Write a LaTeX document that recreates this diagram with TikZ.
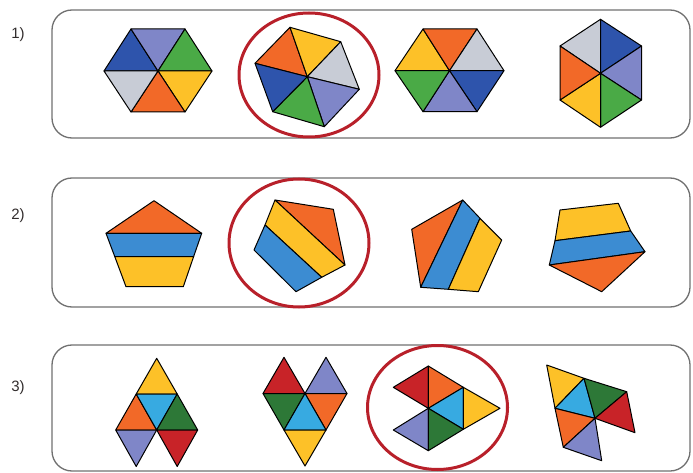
\documentclass[tikz,border=0pt]{standalone}
\usepackage{fontspec}
\setmainfont{Liberation Sans}
\definecolor{dblue}{RGB}{46,84,172}
\definecolor{lav}{RGB}{127,134,200}
\definecolor{grn}{RGB}{74,170,70}
\definecolor{yel}{RGB}{253,193,40}
\definecolor{ora}{RGB}{242,105,40}
\definecolor{lgray}{RGB}{200,204,214}
\definecolor{mblue}{RGB}{60,140,210}
\definecolor{lblue}{RGB}{55,170,225}
\definecolor{dgrn}{RGB}{45,120,55}
\definecolor{rd}{RGB}{200,35,40}
\definecolor{ring}{RGB}{184,32,42}
\definecolor{boxgray}{RGB}{112,112,112}
\definecolor{lbl}{RGB}{50,45,45}
\begin{document}
\begin{tikzpicture}[x=1pt,y=-1pt,
  piece/.style={draw=black,line width=1pt,line join=round},
  panel/.style={draw=boxgray,line width=1.3pt,rounded corners=20pt},
  ringmark/.style={draw=ring,line width=3pt},
  lab/.style={text=lbl,font=\fontsize{15}{17}\selectfont,inner sep=0pt}]
\useasboundingbox (0,0) rectangle (693,473);
% panels
\draw[panel] (52,10) rectangle (690,138);
\draw[panel] (52,178) rectangle (690,307);
\draw[panel] (52,345) rectangle (690,471);
\node[lab] (l1) at (18,35) {1)};
\node[lab] (l2) at (18,216) {2)};
\node[lab] (l3) at (18,388) {3)};
% ---------- row 1 ----------
% hexagon 1
\coordinate (c) at (158,71);
\fill[piece,fill=dblue] (104,71) -- (131,29) -- (c) -- cycle;
\fill[piece,fill=lav] (131,29) -- (185,29) -- (c) -- cycle;
\fill[piece,fill=grn] (185,29) -- (212,71) -- (c) -- cycle;
\fill[piece,fill=yel] (212,71) -- (185,112) -- (c) -- cycle;
\fill[piece,fill=ora] (185,112) -- (131,112) -- (c) -- cycle;
\fill[piece,fill=lgray] (131,112) -- (104,71) -- (c) -- cycle;
% hexagon 2 (circled)
\coordinate (c) at (307.3,76.7);
\fill[piece,fill=ora] (255,63.3) -- (290,27.3) -- (c) -- cycle;
\fill[piece,fill=yel] (290,27.3) -- (340.7,41.7) -- (c) -- cycle;
\fill[piece,fill=lgray] (340.7,41.7) -- (359.3,89.3) -- (c) -- cycle;
\fill[piece,fill=lav] (359.3,89.3) -- (324.3,126.7) -- (c) -- cycle;
\fill[piece,fill=grn] (324.3,126.7) -- (272.7,111.7) -- (c) -- cycle;
\fill[piece,fill=dblue] (272.7,111.7) -- (255,63.3) -- (c) -- cycle;
\draw[ringmark] (309,75) ellipse [x radius=70, y radius=62];
% hexagon 3
\coordinate (c) at (449.5,70.7);
\fill[piece,fill=yel] (395,70.7) -- (423,29) -- (c) -- cycle;
\fill[piece,fill=ora] (423,29) -- (477,29) -- (c) -- cycle;
\fill[piece,fill=lgray] (477,29) -- (504,70.7) -- (c) -- cycle;
\fill[piece,fill=dblue] (504,70.7) -- (477,111.7) -- (c) -- cycle;
\fill[piece,fill=lav] (477,111.7) -- (423,111.7) -- (c) -- cycle;
\fill[piece,fill=grn] (423,111.7) -- (395,70.7) -- (c) -- cycle;
% hexagon 4
\coordinate (c) at (600.5,73.3);
\fill[piece,fill=lgray] (560,46) -- (600.5,19.3) -- (c) -- cycle;
\fill[piece,fill=dblue] (600.5,19.3) -- (641.5,46) -- (c) -- cycle;
\fill[piece,fill=lav] (641.5,46) -- (641.5,100) -- (c) -- cycle;
\fill[piece,fill=grn] (641.5,100) -- (600.5,127.3) -- (c) -- cycle;
\fill[piece,fill=yel] (600.5,127.3) -- (560,100) -- (c) -- cycle;
\fill[piece,fill=ora] (560,100) -- (560,46) -- (c) -- cycle;
% ---------- row 2 ----------
% pentagon 1
\fill[piece,fill=ora] (154,200.7) -- (106,233.3) -- (201.7,233.3) -- cycle;
\fill[piece,fill=mblue] (106,233.3) -- (201.7,233.3) -- (193.6,256.7) -- (114.8,256.7) -- cycle;
\fill[piece,fill=yel] (114.8,256.7) -- (193.6,256.7) -- (183.3,286.7) -- (126,286.7) -- cycle;
% pentagon 2 (circled)
\fill[piece,fill=ora] (275,200) -- (333.3,209.3) -- (345,265) -- cycle;
\fill[piece,fill=yel] (275,200) -- (345,265) -- (321.7,277.3) -- (265,225) -- cycle;
\fill[piece,fill=mblue] (265,225) -- (321.7,277.3) -- (296,291.7) -- (254,250) -- cycle;
\draw[ringmark] (299,243) ellipse [x radius=70, y radius=64];
% pentagon 3
\fill[piece,fill=ora] (462.7,200) -- (420.7,287.3) -- (411.7,229.3) -- cycle;
\fill[piece,fill=mblue] (462.7,200) -- (480,218.3) -- (448.3,289.3) -- (420.7,287.3) -- cycle;
\fill[piece,fill=yel] (480,218.3) -- (501.7,240) -- (478.3,291.7) -- (448.3,289.3) -- cycle;
% pentagon 4
\fill[piece,fill=yel] (560,210) -- (618.3,203.3) -- (630.7,231) -- (555,240.7) -- cycle;
\fill[piece,fill=mblue] (555,240.7) -- (630.7,231) -- (645,251.7) -- (549.3,265) -- cycle;
\fill[piece,fill=ora] (549.3,265) -- (645,251.7) -- (601.7,291.7) -- cycle;
% ---------- row 3 ----------
% shape 1
\fill[piece,fill=yel] (156.7,358.3) -- (136.2,394) -- (177.2,394) -- cycle;
\fill[piece,fill=ora] (136.2,394) -- (115.7,430) -- (156.7,430) -- cycle;
\fill[piece,fill=lblue] (136.2,394) -- (177.2,394) -- (156.7,430) -- cycle;
\fill[piece,fill=dgrn] (177.2,394) -- (156.7,430) -- (197.7,430) -- cycle;
\fill[piece,fill=lav] (115.7,430) -- (156.7,430) -- (136.2,466.5) -- cycle;
\fill[piece,fill=rd] (156.7,430) -- (197.7,430) -- (177.2,466.5) -- cycle;
% shape 2
\fill[piece,fill=rd] (284,357.3) -- (263,393.5) -- (305,393.5) -- cycle;
\fill[piece,fill=lav] (326,357.3) -- (305,393.5) -- (347,393.5) -- cycle;
\fill[piece,fill=dgrn] (263,393.5) -- (305,393.5) -- (284,430) -- cycle;
\fill[piece,fill=ora] (305,393.5) -- (347,393.5) -- (326,430) -- cycle;
\fill[piece,fill=lblue] (305,393.5) -- (284,430) -- (326,430) -- cycle;
\fill[piece,fill=yel] (284,430) -- (326,430) -- (305,466) -- cycle;
% shape 3 (circled)
\fill[piece,fill=rd] (393.3,387.3) -- (428.3,366) -- (428.3,408.3) -- cycle;
\fill[piece,fill=ora] (428.3,366) -- (463.3,387.3) -- (428.3,408.3) -- cycle;
\fill[piece,fill=lblue] (463.3,387.3) -- (428.3,408.3) -- (463.3,429.3) -- cycle;
\fill[piece,fill=yel] (463.3,387.3) -- (500,408.3) -- (463.3,429.3) -- cycle;
\fill[piece,fill=lav] (393.3,430) -- (428.3,408.3) -- (428.3,450.7) -- cycle;
\fill[piece,fill=dgrn] (428.3,408.3) -- (463.3,429.3) -- (428.3,450.7) -- cycle;
\draw[ringmark] (437.5,407.5) ellipse [x radius=70, y radius=62];
% shape 4
\fill[piece,fill=yel] (546.7,365) -- (584,378.3) -- (555,408.3) -- cycle;
\fill[piece,fill=lblue] (584,378.3) -- (555,408.3) -- (595,418.3) -- cycle;
\fill[piece,fill=dgrn] (584,378.3) -- (626.7,391.7) -- (595,418.3) -- cycle;
\fill[piece,fill=rd] (626.7,391.7) -- (635,432.7) -- (595,418.3) -- cycle;
\fill[piece,fill=ora] (555,408.3) -- (595,418.3) -- (563.3,447.3) -- cycle;
\fill[piece,fill=lav] (595,418.3) -- (563.3,447.3) -- (601.7,460.7) -- cycle;
\end{tikzpicture}
\end{document}
